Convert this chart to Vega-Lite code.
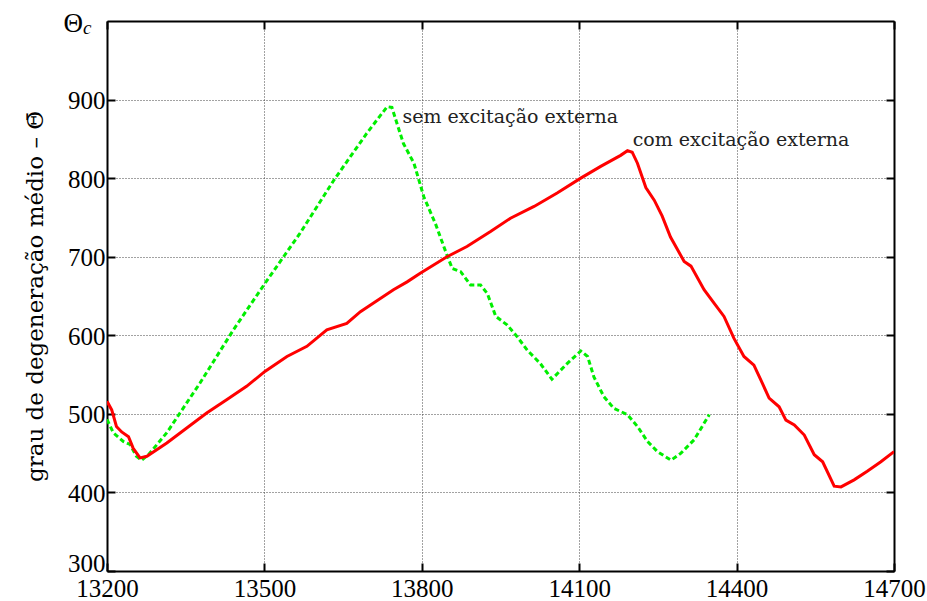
{
  "$schema": "https://vega.github.io/schema/vega-lite/v6.json",
  "width": 787,
  "height": 550,
  "autosize": {"type": "none"},
  "padding": {"left": 107, "top": 21, "right": 33, "bottom": 30},
  "background": "white",
  "config": {
    "view": {"stroke": null},
    "font": "Liberation Serif",
    "axis": {
      "labelFont": "Liberation Serif",
      "labelFontSize": 25,
      "labelColor": "black",
      "titleFont": "DejaVu Serif",
      "titleFontSize": 23,
      "titleFontWeight": "normal",
      "titleColor": "black",
      "domainColor": "black",
      "domainWidth": 2,
      "tickColor": "black",
      "tickWidth": 2,
      "tickSize": -8,
      "gridColor": "#444444",
      "gridDash": [1, 2],
      "gridWidth": 1,
      "zindex": 1
    }
  },
  "datasets": {
    "series": [
      {"serie": "com", "x": 13200, "y": 516},
      {"serie": "com", "x": 13209, "y": 505},
      {"serie": "com", "x": 13218, "y": 484},
      {"serie": "com", "x": 13228, "y": 477},
      {"serie": "com", "x": 13241, "y": 471},
      {"serie": "com", "x": 13250, "y": 456},
      {"serie": "com", "x": 13263, "y": 444},
      {"serie": "com", "x": 13276, "y": 446},
      {"serie": "com", "x": 13314, "y": 463},
      {"serie": "com", "x": 13352, "y": 482},
      {"serie": "com", "x": 13390, "y": 501},
      {"serie": "com", "x": 13428, "y": 518},
      {"serie": "com", "x": 13466, "y": 535},
      {"serie": "com", "x": 13501, "y": 554},
      {"serie": "com", "x": 13543, "y": 573},
      {"serie": "com", "x": 13581, "y": 586},
      {"serie": "com", "x": 13619, "y": 607},
      {"serie": "com", "x": 13657, "y": 615},
      {"serie": "com", "x": 13683, "y": 630},
      {"serie": "com", "x": 13708, "y": 641},
      {"serie": "com", "x": 13746, "y": 658},
      {"serie": "com", "x": 13772, "y": 668},
      {"serie": "com", "x": 13797, "y": 679},
      {"serie": "com", "x": 13848, "y": 700},
      {"serie": "com", "x": 13886, "y": 713},
      {"serie": "com", "x": 13931, "y": 732},
      {"serie": "com", "x": 13969, "y": 749},
      {"serie": "com", "x": 14014, "y": 764},
      {"serie": "com", "x": 14058, "y": 781},
      {"serie": "com", "x": 14103, "y": 800},
      {"serie": "com", "x": 14141, "y": 815},
      {"serie": "com", "x": 14179, "y": 829},
      {"serie": "com", "x": 14192, "y": 835},
      {"serie": "com", "x": 14201, "y": 833},
      {"serie": "com", "x": 14211, "y": 819},
      {"serie": "com", "x": 14227, "y": 788},
      {"serie": "com", "x": 14243, "y": 772},
      {"serie": "com", "x": 14258, "y": 752},
      {"serie": "com", "x": 14274, "y": 725},
      {"serie": "com", "x": 14300, "y": 694},
      {"serie": "com", "x": 14313, "y": 688},
      {"serie": "com", "x": 14338, "y": 658},
      {"serie": "com", "x": 14357, "y": 641},
      {"serie": "com", "x": 14376, "y": 624},
      {"serie": "com", "x": 14395, "y": 596},
      {"serie": "com", "x": 14414, "y": 573},
      {"serie": "com", "x": 14433, "y": 562},
      {"serie": "com", "x": 14449, "y": 539},
      {"serie": "com", "x": 14462, "y": 520},
      {"serie": "com", "x": 14481, "y": 509},
      {"serie": "com", "x": 14494, "y": 492},
      {"serie": "com", "x": 14510, "y": 486},
      {"serie": "com", "x": 14529, "y": 473},
      {"serie": "com", "x": 14548, "y": 448},
      {"serie": "com", "x": 14564, "y": 439},
      {"serie": "com", "x": 14586, "y": 408},
      {"serie": "com", "x": 14599, "y": 407},
      {"serie": "com", "x": 14624, "y": 416},
      {"serie": "com", "x": 14649, "y": 427},
      {"serie": "com", "x": 14675, "y": 439},
      {"serie": "com", "x": 14700, "y": 452},
      {"serie": "sem", "x": 13200, "y": 493},
      {"serie": "sem", "x": 13212, "y": 476},
      {"serie": "sem", "x": 13231, "y": 465},
      {"serie": "sem", "x": 13244, "y": 461},
      {"serie": "sem", "x": 13256, "y": 446},
      {"serie": "sem", "x": 13266, "y": 441},
      {"serie": "sem", "x": 13279, "y": 448},
      {"serie": "sem", "x": 13314, "y": 476},
      {"serie": "sem", "x": 13377, "y": 539},
      {"serie": "sem", "x": 13441, "y": 607},
      {"serie": "sem", "x": 13501, "y": 666},
      {"serie": "sem", "x": 13568, "y": 730},
      {"serie": "sem", "x": 13632, "y": 797},
      {"serie": "sem", "x": 13695, "y": 857},
      {"serie": "sem", "x": 13734, "y": 891},
      {"serie": "sem", "x": 13743, "y": 890},
      {"serie": "sem", "x": 13753, "y": 869},
      {"serie": "sem", "x": 13765, "y": 844},
      {"serie": "sem", "x": 13785, "y": 819},
      {"serie": "sem", "x": 13804, "y": 776},
      {"serie": "sem", "x": 13826, "y": 742},
      {"serie": "sem", "x": 13848, "y": 702},
      {"serie": "sem", "x": 13858, "y": 685},
      {"serie": "sem", "x": 13874, "y": 681},
      {"serie": "sem", "x": 13893, "y": 664},
      {"serie": "sem", "x": 13912, "y": 664},
      {"serie": "sem", "x": 13925, "y": 653},
      {"serie": "sem", "x": 13941, "y": 624},
      {"serie": "sem", "x": 13963, "y": 613},
      {"serie": "sem", "x": 13982, "y": 598},
      {"serie": "sem", "x": 14001, "y": 581},
      {"serie": "sem", "x": 14026, "y": 564},
      {"serie": "sem", "x": 14048, "y": 544},
      {"serie": "sem", "x": 14077, "y": 564},
      {"serie": "sem", "x": 14103, "y": 580},
      {"serie": "sem", "x": 14116, "y": 573},
      {"serie": "sem", "x": 14128, "y": 547},
      {"serie": "sem", "x": 14147, "y": 522},
      {"serie": "sem", "x": 14166, "y": 507},
      {"serie": "sem", "x": 14192, "y": 499},
      {"serie": "sem", "x": 14211, "y": 484},
      {"serie": "sem", "x": 14230, "y": 465},
      {"serie": "sem", "x": 14249, "y": 452},
      {"serie": "sem", "x": 14275, "y": 441},
      {"serie": "sem", "x": 14294, "y": 450},
      {"serie": "sem", "x": 14319, "y": 467},
      {"serie": "sem", "x": 14348, "y": 499}
    ],
    "notes": [
      {"x": 13763, "y": 878, "label": "sem excitação externa"},
      {"x": 14202, "y": 848, "label": "com excitação externa"}
    ],
    "corner": [
      {"x": 13200, "y": 1000, "theta": "Θ", "sub": "c"}
    ]
  },
  "resolve": {"axis": {"x": "independent", "y": "independent"}},
  "layer": [
    {
      "data": {"name": "series"},
      "transform": [{"filter": "datum.serie === 'sem'"}],
      "mark": {"type": "line", "color": "#00ee00", "strokeWidth": 3, "strokeDash": [5, 3], "clip": true},
      "encoding": {
        "x": {
          "field": "x", "type": "quantitative",
          "scale": {"domain": [13200, 14700], "nice": false, "zero": false},
          "axis": {
            "orient": "bottom", "title": null,
            "values": [13200, 13500, 13800, 14100, 14400, 14700],
            "format": "d", "labelPadding": 13, "labelFlush": false, "labelOverlap": false
          }
        },
        "y": {
          "field": "y", "type": "quantitative",
          "scale": {"domain": [300, 1000], "nice": false, "zero": false},
          "axis": {
            "orient": "left",
            "title": "grau de degeneração médio – Θ̄",
            "values": [300, 400, 500, 600, 700, 800, 900],
            "labelOffset": {"condition": {"test": "datum.value === 300", "value": -8}, "value": 1},
            "format": "d", "labelPadding": 10, "titlePadding": 20, "labelFlush": false, "labelOverlap": false
          }
        }
      }
    },
    {
      "data": {"name": "series"},
      "transform": [{"filter": "datum.serie === 'com'"}],
      "mark": {"type": "line", "color": "#ff0000", "strokeWidth": 3, "clip": true},
      "encoding": {
        "x": {"field": "x", "type": "quantitative", "axis": null},
        "y": {"field": "y", "type": "quantitative", "axis": null}
      }
    },
    {
      "data": {"name": "notes"},
      "mark": {"type": "text", "align": "left", "baseline": "middle", "font": "DejaVu Serif", "fontSize": 19, "color": "#222222"},
      "encoding": {
        "x": {
          "field": "x", "type": "quantitative",
          "axis": {
            "orient": "top", "title": null, "labels": false, "grid": false,
            "values": [13200, 13500, 13800, 14100, 14400, 14700]
          }
        },
        "y": {
          "field": "y", "type": "quantitative",
          "axis": {
            "orient": "right", "title": null, "labels": false, "grid": false,
            "values": [300, 400, 500, 600, 700, 800, 900]
          }
        },
        "text": {"field": "label"}
      }
    },
    {
      "data": {"name": "corner"},
      "mark": {"type": "text", "align": "right", "baseline": "alphabetic", "font": "Liberation Serif", "fontSize": 27, "color": "black", "dx": -24, "dy": 11},
      "encoding": {
        "x": {"field": "x", "type": "quantitative", "axis": null},
        "y": {"field": "y", "type": "quantitative", "axis": null},
        "text": {"field": "theta"}
      }
    },
    {
      "data": {"name": "corner"},
      "mark": {"type": "text", "align": "left", "baseline": "alphabetic", "font": "Liberation Serif", "fontStyle": "italic", "fontSize": 19, "color": "black", "dx": -24, "dy": 13},
      "encoding": {
        "x": {"field": "x", "type": "quantitative", "axis": null},
        "y": {"field": "y", "type": "quantitative", "axis": null},
        "text": {"field": "sub"}
      }
    }
  ]
}
